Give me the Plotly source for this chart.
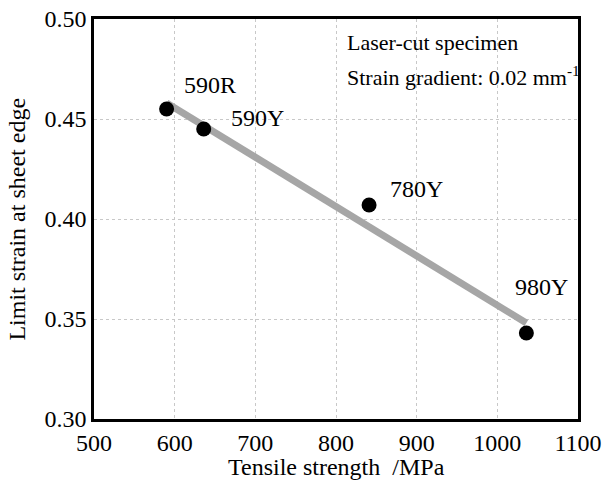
import plotly.graph_objects as go

# Data
steel_grades = ["590R", "590Y", "780Y", "980Y"]
tensile_strength = [590, 636, 841, 1036]          # MPa
limit_strain = [0.455, 0.445, 0.407, 0.343]

# Trend line end points
trend_x = [590, 1036]
trend_y = [0.458, 0.348]

x_ticks = [500, 600, 700, 800, 900, 1000, 1100]
y_ticks = [0.30, 0.35, 0.40, 0.45, 0.50]

x_title = "Tensile strength  /MPa"
y_title = "Limit strain at sheet edge"

# label offsets (pixels) relative to each point
label_dx = [15, 25, 19, -13]
label_dy = [24, 11, 16, 46]

FONT = "Liberation Serif"

fig = go.Figure()
fig.add_trace(go.Scatter(
    x=trend_x, y=trend_y, mode="lines",
    line=dict(color="#a6a6a6", width=7),
    hoverinfo="skip", showlegend=False))
fig.add_trace(go.Scatter(
    x=tensile_strength, y=limit_strain, mode="markers",
    marker=dict(color="black", size=15),
    showlegend=False))

for g, xv, yv, dx, dy in zip(steel_grades, tensile_strength, limit_strain, label_dx, label_dy):
    fig.add_annotation(x=xv, y=yv, text=g, showarrow=False,
                       xanchor="left", yanchor="middle",
                       xshift=dx, yshift=dy,
                       font=dict(family=FONT, size=24, color="black"))

fig.add_annotation(xref="paper", yref="paper", x=0.518, y=0.941,
                   text="Laser-cut specimen", showarrow=False,
                   xanchor="left", yanchor="middle",
                   font=dict(family=FONT, size=22, color="black"))
fig.add_annotation(xref="paper", yref="paper", x=0.518, y=0.858,
                   text="Strain gradient: 0.02 mm<sup>-1</sup>", showarrow=False,
                   xanchor="left", yanchor="middle",
                   font=dict(family=FONT, size=22, color="black"))

# axis titles
fig.add_annotation(xref="paper", yref="paper", x=0.5, y=-0.12,
                   text=x_title, showarrow=False,
                   xanchor="center", yanchor="middle",
                   font=dict(family=FONT, size=24, color="black"))
fig.add_annotation(xref="paper", yref="paper", x=-0.160, y=0.5,
                   text=y_title, showarrow=False, textangle=-90,
                   xanchor="center", yanchor="middle",
                   font=dict(family=FONT, size=24, color="black"))

axis_common = dict(
    showline=True, linecolor="black", linewidth=2.5, mirror=True,
    showgrid=True, gridcolor="#c8c8c8", gridwidth=1, griddash="dot",
    ticks="", zeroline=False, automargin=False,
    tickfont=dict(family=FONT, size=24, color="black"),
)

fig.update_xaxes(range=[500, 1100], tickvals=x_ticks,
                 ticktext=[str(v) for v in x_ticks],
                 **axis_common)
fig.update_yaxes(range=[0.30, 0.50], tickvals=y_ticks,
                 ticktext=[f"{v:.2f}" for v in y_ticks],
                 **axis_common)

fig.update_layout(
    width=603, height=482,
    margin=dict(l=94, r=25, t=19, b=63),
    paper_bgcolor="white", plot_bgcolor="white",
    font=dict(family=FONT, color="black"),
)

fig.write_html("out.html")
